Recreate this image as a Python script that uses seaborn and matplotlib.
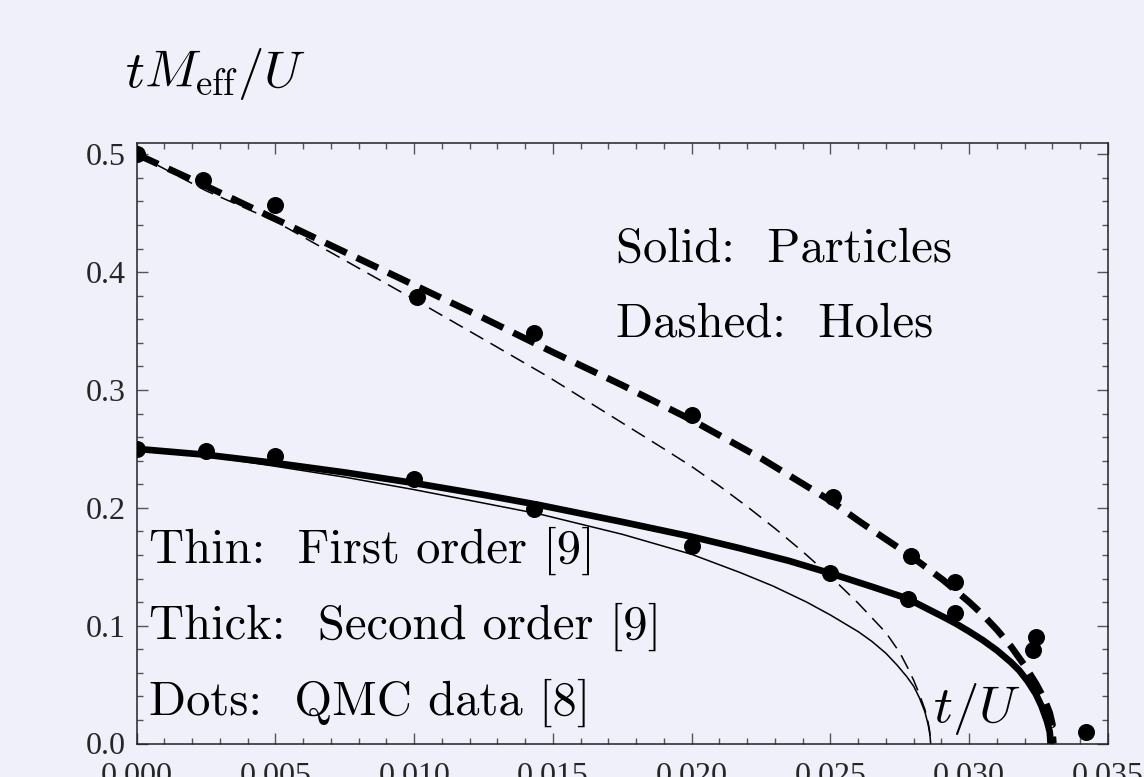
import matplotlib
matplotlib.use("Agg")
import matplotlib.pyplot as plt
from matplotlib.ticker import MultipleLocator
import pandas as pd
import seaborn as sns

# ---------------- data ----------------
# Second order, particles (thick solid)
t_part2 = [0.0, 0.0025, 0.005, 0.0075, 0.010, 0.0125, 0.0145, 0.0175, 0.020,
           0.02175, 0.0235, 0.025, 0.0265, 0.02775, 0.02906, 0.0295, 0.0300,
           0.0305, 0.0310, 0.0315, 0.0318, 0.0321, 0.0324, 0.0326, 0.0328,
           0.0329, 0.03292, 0.03293]
m_part2 = [0.250, 0.245, 0.238, 0.230, 0.221, 0.211, 0.2024, 0.188, 0.1755,
           0.1656, 0.155, 0.1444, 0.133, 0.1232, 0.1075, 0.102, 0.095,
           0.0875, 0.079, 0.069, 0.062, 0.053, 0.042, 0.032, 0.019,
           0.010, 0.004, 0.0]

# First order, particles (thin solid)
t_part1 = [0.0, 0.0025, 0.005, 0.0075, 0.010, 0.0125, 0.0145, 0.0175, 0.020,
           0.02175, 0.02294, 0.02414, 0.025, 0.026, 0.0265, 0.027, 0.0274,
           0.02775, 0.028, 0.0282, 0.0284, 0.02852, 0.02858, 0.02861]
m_part1 = [0.250, 0.244, 0.2352, 0.226, 0.2154, 0.204, 0.1948, 0.1775, 0.1605,
           0.145, 0.1335, 0.120, 0.109, 0.0949, 0.0865, 0.0765, 0.0665,
           0.0567, 0.0485, 0.039, 0.027, 0.016, 0.008, 0.0]

# Second order, holes (thick dashed)
t_hole2 = [0.0, 0.0025, 0.005, 0.0075, 0.010, 0.0125, 0.015, 0.0175, 0.020,
           0.0225, 0.025, 0.02607, 0.02793, 0.02906, 0.0295, 0.0300, 0.0305,
           0.0310, 0.0315, 0.0320, 0.0324, 0.0327, 0.0329, 0.0330, 0.03297,
           0.03302, 0.03303]
m_hole2 = [0.500, 0.473, 0.445, 0.417, 0.389, 0.361, 0.332, 0.304, 0.2745,
           0.242, 0.206, 0.188, 0.1585, 0.1387, 0.130, 0.120, 0.109,
           0.0965, 0.0825, 0.066, 0.051, 0.038, 0.026, 0.016, 0.016,
           0.004, 0.0]

# First order, holes (thin dashed)
t_hole1 = [0.0, 0.0025, 0.005, 0.0075, 0.0101, 0.0125, 0.0148, 0.0175, 0.019,
           0.020, 0.021, 0.022, 0.023, 0.024, 0.025, 0.026, 0.027, 0.0275,
           0.0278, 0.028, 0.0282, 0.0284, 0.0285, 0.02857, 0.02861]
m_hole1 = [0.500, 0.469, 0.443, 0.410, 0.3755, 0.343, 0.3116, 0.272, 0.250,
           0.235, 0.2185, 0.201, 0.1825, 0.1628, 0.1418, 0.119, 0.094, 0.077,
           0.0635, 0.0535, 0.042, 0.029, 0.020, 0.011, 0.0]

# QMC data (dots)
qmc_t_holes = [0.0, 0.0024, 0.0050, 0.0101, 0.0143, 0.0200, 0.0251, 0.0279,
               0.0295, 0.0324]
qmc_m_holes = [0.500, 0.478, 0.457, 0.379, 0.348, 0.279, 0.209, 0.159,
               0.137, 0.090]
qmc_t_part = [0.0, 0.0025, 0.0050, 0.0100, 0.0143, 0.0200, 0.0250, 0.0278,
              0.0295, 0.0323, 0.0342]
qmc_m_part = [0.250, 0.248, 0.244, 0.2245, 0.199, 0.168, 0.1444, 0.123,
              0.1105, 0.0793, 0.0095]

x_ticks = [0.000, 0.005, 0.010, 0.015, 0.020, 0.025, 0.030, 0.035]
x_tick_labels = ["0.000", "0.005", "0.010", "0.015", "0.020", "0.025",
                 "0.030", "0.035"]
y_ticks = [0.0, 0.1, 0.2, 0.3, 0.4, 0.5]
y_tick_labels = ["0.0", "0.1", "0.2", "0.3", "0.4", "0.5"]

notes_right = ["Solid:  Particles", "Dashed:  Holes"]
notes_left = ["Thin:  First order [9]", "Thick:  Second order [9]",
              "Dots:  QMC data [8]"]
y_axis_title = r"$tM_{\mathrm{eff}}/U$"
x_axis_title = r"$t/U$"

# ---------------- style ----------------
BG = "#f0f0fb"
INK = "#000000"
sns.set_theme(style="ticks", rc={
    "figure.facecolor": BG,
    "axes.facecolor": BG,
    "axes.edgecolor": "#222222",
    "axes.linewidth": 1.1,
    "savefig.facecolor": BG,
})
plt.rcParams["font.family"] = ["Liberation Serif", "DejaVu Serif"]
plt.rcParams["mathtext.fontset"] = "cm"
plt.rcParams["lines.scale_dashes"] = False

W, H = 1144, 777
fig = plt.figure(figsize=(W / 100, H / 100), dpi=100)
left_px, right_px, top_px, bottom_px = 136.7, 1108.0, 143.3, 743.5
ax = fig.add_axes([left_px / W, 1 - bottom_px / H,
                   (right_px - left_px) / W, (bottom_px - top_px) / H])
ax.set_facecolor(BG)

curves = [
    (t_part1, m_part1, 1.1, "-"),
    (t_hole1, m_hole1, 1.1, (0, (11, 6))),
    (t_part2, m_part2, 4.8, "-"),
    (t_hole2, m_hole2, 4.8, (0, (17, 8))),
]
for tt, mm, lw, ls in curves:
    df = pd.DataFrame({"t": tt, "M": mm})
    sns.lineplot(data=df, x="t", y="M", ax=ax, color=INK, linewidth=lw,
                 linestyle=ls, sort=False, estimator=None,
                 solid_capstyle="butt", dash_capstyle="butt",
                 solid_joinstyle="round", zorder=3)

dots = pd.DataFrame({"t": qmc_t_holes + qmc_t_part,
                     "M": qmc_m_holes + qmc_m_part})
sns.scatterplot(data=dots, x="t", y="M", ax=ax, color=INK, s=150,
                linewidth=0, zorder=5)

ax.set_xlim(0, 0.035)
ax.set_ylim(0, 0.5093)
ax.set_xticks(x_ticks)
ax.set_xticklabels(x_tick_labels)
ax.set_yticks(y_ticks)
ax.set_yticklabels(y_tick_labels)
ax.xaxis.set_minor_locator(MultipleLocator(0.001))
ax.yaxis.set_minor_locator(MultipleLocator(0.02))
ax.tick_params(which="both", direction="in", top=True, right=True,
               labeltop=False, labelright=False, color="#555555", width=1.0)
ax.tick_params(which="major", length=8)
ax.tick_params(which="minor", length=4.5)
ax.tick_params(axis="x", which="major", labelsize=23, pad=13)
ax.tick_params(axis="y", which="major", labelsize=23, pad=8)
ax.set_xlabel("")
ax.set_ylabel("")
for s in ax.spines.values():
    s.set_visible(True)

# axis titles (Mathematica-style placement)
fig.text(125 / W, 1 - 87.3 / H, y_axis_title, fontsize=38,
         ha="left", va="baseline", color=INK)
fig.text(933 / W, 1 - 722 / H, x_axis_title, fontsize=38,
         ha="left", va="baseline", color=INK)

# annotations in Computer Modern roman
for i, txt in enumerate(notes_right):
    fig.text(616 / W, 1 - (261.7 + 75 * i) / H, txt, fontsize=35,
             family="cmr10", ha="left", va="baseline", color=INK)
for i, txt in enumerate(notes_left):
    fig.text(149 / W, 1 - (563 + 76 * i) / H, txt, fontsize=35,
             family="cmr10", ha="left", va="baseline", color=INK)

fig.savefig("out.png", dpi=100, facecolor=BG)
